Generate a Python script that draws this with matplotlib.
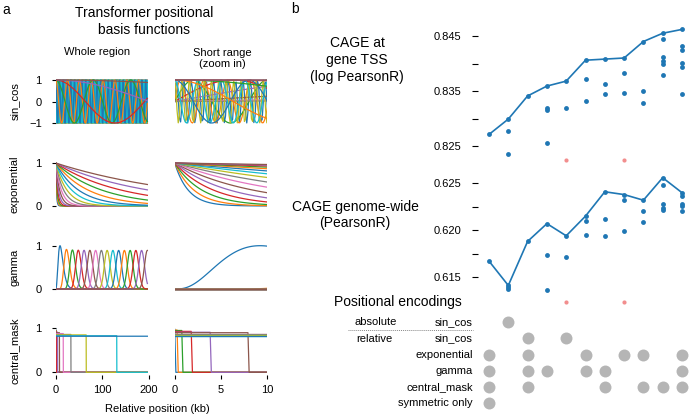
import math
import numpy as np
import matplotlib
matplotlib.use('Agg')
import matplotlib.pyplot as plt

plt.rcParams['font.family'] = ['Liberation Sans', 'DejaVu Sans']
plt.rcParams['font.size'] = 8

# ---- panel a: basis function parameters (positions in 128 bp bins) ----
bin_kb = 0.128
n_bins = 1536
sin_periods_kb = [0.80, 2.54, 8.04, 25.4, 80.4, 254.0, 804.0, 2543.0]
half_lives_kb = [1.02, 1.45, 2.06, 2.93, 4.16, 5.91, 8.39, 11.9, 16.9, 24.0,
                 34.1, 48.5, 68.8, 97.8, 138.9, 196.6]
gamma_means_kb = [12.3, 24.6, 36.9, 49.2, 61.4, 73.7, 86.0, 98.3, 110.6, 122.9,
                  135.2, 147.5, 159.8, 172.0, 184.3, 196.6]
gamma_std_kb = 6.14
mask_widths_bins = [1, 3, 7, 15, 31, 63, 127, 255, 511, 1023, 2047]
mask_levels = [0.98, 0.96, 0.95, 0.93, 0.91, 0.90, 0.88, 0.86, 0.85, 0.83, 0.82]

# ---- panel b: model results ----
tss_r = [
    [0.8271],
    [0.8299, 0.8278, 0.8235],
    [0.8341],
    [0.8359, 0.8319, 0.8316, 0.8255],
    [0.8368, 0.8319],
    [0.8406, 0.8372, 0.8332],
    [0.8408, 0.8362, 0.8345],
    [0.8410, 0.8382, 0.8347],
    [0.8440, 0.8350, 0.8328],
    [0.8455, 0.8444, 0.8412, 0.8404, 0.8399, 0.8379],
    [0.8462, 0.8431, 0.8424, 0.8401, 0.8393, 0.8344],
]
genome_r = [
    [0.6167],
    [0.6141, 0.6139, 0.6137],
    [0.6188],
    [0.6207, 0.6174, 0.6136],
    [0.6194, 0.6171],
    [0.6215, 0.6210, 0.6195],
    [0.6241, 0.6212, 0.6194],
    [0.6238, 0.6232, 0.6199],
    [0.6232, 0.6220, 0.6209],
    [0.6256, 0.6248, 0.6228, 0.6224, 0.6222],
    [0.6240, 0.6236, 0.6228, 0.6226, 0.6220],
]
failed_cols = [5, 8]
tss_failed = 0.8224
genome_failed = 0.6123

enc_labels = ['sin_cos', 'sin_cos', 'exponential', 'gamma', 'central_mask', 'symmetric only']
enc_used = [[2], [3, 5], [1, 3, 6, 8, 9, 11], [1, 3, 4, 6, 7, 11],
            [1, 3, 7, 9, 10, 11], [1]]

W, H = 689, 416
fig = plt.figure(figsize=(W / 100, H / 100), dpi=100)


def px_axes(x0, x1, y0, y1):
    return fig.add_axes([x0 / W, 1 - y1 / H, (x1 - x0) / W, (y1 - y0) / H])


pos = np.arange(n_bins) * bin_kb


def basis(name):
    if name == 'sin_cos':
        return ([np.sin(2 * np.pi * pos / p) for p in sin_periods_kb] +
                [np.cos(2 * np.pi * pos / p) for p in sin_periods_kb])
    if name == 'exponential':
        return [np.exp(-np.log(2) / h * pos) for h in half_lives_kb]
    if name == 'gamma':
        out = []
        for m in gamma_means_kb:
            k = (m / gamma_std_kb) ** 2
            rate = m / gamma_std_kb ** 2
            safe = np.maximum(pos, 1e-12)
            logp = (k - 1) * np.log(safe) - rate * pos - (math.lgamma(k) - k * math.log(rate))
            out.append(np.where(pos > 0, np.exp(logp), 0.0))
        top = max(o.max() for o in out)
        return [o / top for o in out]
    out = []
    for w, lvl in zip(mask_widths_bins, mask_levels):
        out.append(np.where(np.arange(n_bins) < w, lvl, 0.0))
    return out


rows = [('sin_cos', -1, 1, 80, 123), ('exponential', 0, 1, 163, 206),
        ('gamma', 0, 1, 245.7, 289), ('central_mask', 0, 1, 328.3, 372.3)]
cols = [(0, 200, 55.7, 149, [0, 100, 200]), (0, 10, 174.7, 267, [0, 5, 10])]
marg = 0.06

for r, (name, lo, hi, ytop, ybot) in enumerate(rows):
    curves = basis(name)
    pad = marg * (ybot - ytop)
    for c, (xa, xb, px0, px1, xt) in enumerate(cols):
        ax = px_axes(px0, px1, ytop - pad, ybot + pad)
        for yv in curves:
            ax.plot(pos, yv, lw=0.9)
        ax.set_xlim(xa, xb)
        ax.set_ylim(lo - marg * (hi - lo), hi + marg * (hi - lo))
        for s in ax.spines.values():
            s.set_visible(False)
        ax.tick_params(direction='out', length=3, width=0.8, labelsize=8)
        ax.tick_params(axis='y', pad=7)
        ax.tick_params(axis='x', pad=4.5)
        ax.set_yticks([-1, 0, 1] if name == 'sin_cos' else [0, 1])
        if c == 1:
            ax.tick_params(axis='y', left=False, labelleft=False)
        if r == len(rows) - 1:
            ax.set_xticks(xt)
        else:
            ax.set_xticks([])
    fig.text(15 / W, 1 - (ytop + ybot) / 2 / H, name, rotation=90,
             ha='center', va='center', fontsize=8)

fig.text(2 / W, 1 - 9.5 / H, 'a', ha='left', va='center', fontsize=10)
fig.text(144 / W, 1 - 21.5 / H, 'Transformer positional\nbasis functions',
         ha='center', va='center', fontsize=10, linespacing=1.2)
fig.text(97 / W, 1 - 52 / H, 'Whole region', ha='center', va='center', fontsize=8)
fig.text(222 / W, 1 - 58.5 / H, 'Short range\n(zoom in)', ha='center',
         va='center', fontsize=8, linespacing=1.15)
fig.text(157 / W, 1 - 409 / H, 'Relative position (kb)', ha='center',
         va='center', fontsize=8)

# ---- panel b ----
blue = '#1f77b4'
red = '#f28e8e'
model_x = np.arange(1, len(tss_r) + 1)
xl = (1 - (489 - 478.3) / 19.3, 11 + (689 - 682) / 19.3)


def result_panel(ax, vals, failed_y, ylim, major, minor):
    for x, v in zip(model_x, vals):
        ax.plot([x] * len(v), v, 'o', ms=3.5, color=blue, mec='none', clip_on=False)
    ax.plot(model_x, [max(v) for v in vals], '-', lw=1.2, color=blue)
    ax.plot(failed_cols, [failed_y] * len(failed_cols), 'o', ms=3.0, color=red,
            mec='none', clip_on=False)
    ax.set_xlim(*xl)
    ax.set_ylim(*ylim)
    ax.set_xticks([])
    ax.set_yticks(major)
    ax.set_yticks(minor, minor=True)
    ax.set_yticklabels(['%.3f' % t for t in major])
    for s in ax.spines.values():
        s.set_visible(False)
    ax.tick_params(axis='y', which='both', direction='out', length=4,
                   width=0.8, pad=8.5, labelsize=8)


ax_t = px_axes(478.3, 689, 25, 165)
result_panel(ax_t, tss_r, tss_failed, (0.82155, 0.847),
             [0.825, 0.835, 0.845], [0.830, 0.840])
ax_g = px_axes(478.3, 689, 172, 307)
result_panel(ax_g, genome_r, genome_failed, (0.6118, 0.62621),
             [0.615, 0.620, 0.625], [0.6175, 0.6225])

ax_m = px_axes(478.3, 689, 314.2, 411.4)
for i, cols_used in enumerate(enc_used):
    ax_m.plot(cols_used, [i] * len(cols_used), 'o', ms=8.6, color='#b5b5b5',
              mec='none', clip_on=False)
    ax_m.text(0.171, i, enc_labels[i], ha='right', va='center', fontsize=8)
ax_m.plot([-6.30, 0.171], [0.5, 0.5], color='#888888', lw=0.7,
          linestyle=(0, (1, 1)), clip_on=False)
ax_m.text(-4.86, 0, 'absolute', ha='center', va='center', fontsize=8)
ax_m.text(-4.96, 1, 'relative', ha='center', va='center', fontsize=8)
ax_m.set_xlim(*xl)
ax_m.set_ylim(5.5, -0.5)
ax_m.axis('off')

fig.text(294.7 / W, 1 - 8.8 / H, 'b', ha='center', va='center', fontsize=10)
fig.text(357 / W, 1 - 60 / H, 'CAGE at\ngene TSS\n(log PearsonR)',
         ha='center', va='center', fontsize=10, linespacing=1.25)
fig.text(355 / W, 1 - 214.7 / H, 'CAGE genome-wide\n(PearsonR)',
         ha='center', va='center', fontsize=10, linespacing=1.15)
fig.text(398 / W, 1 - 301.7 / H, 'Positional encodings', ha='center',
         va='center', fontsize=10)

fig.savefig('out.png', dpi=100)
